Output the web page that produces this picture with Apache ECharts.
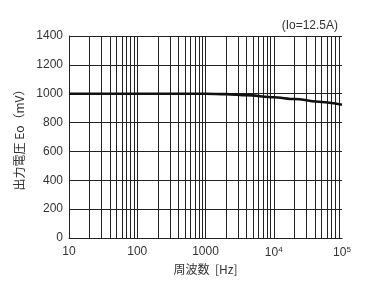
<!DOCTYPE html>
<html><head><meta charset="utf-8">
<script src="https://cdn.jsdelivr.net/npm/echarts@6/dist/echarts.min.js"></script>
<style>html,body{margin:0;padding:0;background:#fff}#c{width:374px;height:292px}</style>
</head><body><div id="c"></div>
<script>
const freq = [10, 100, 1000, 2000, 4000, 10000, 20000, 50000, 100000];
const voltage = [1000, 1000, 1000, 997, 990, 975, 963, 943, 924];
const minorGrid = [20,30,40,50,60,70,80,90,100,200,300,400,500,600,700,800,900,1000,2000,3000,4000,5000,6000,7000,8000,9000,10000,20000,30000,40000,50000,60000,70000,80000,90000];
const xTickLabels = {10:'10',100:'100',1000:'1000',10000:'10{s|4}',100000:'10{s|5}'};

const chart = echarts.init(document.getElementById('c'));
chart.setOption({
  animation:false,
  title:{text:'(Io=12.5A)', right:31, top:15, textStyle:{fontSize:12, fontWeight:'normal', color:'#333', fontFamily:'Liberation Sans'}},
  grid:{left:69, right:32, top:36, bottom:54},
  xAxis:{type:'log', min:10, max:100000, logBase:10,
    name:'周波数  [Hz]', nameLocation:'middle', nameGap:25,
    nameTextStyle:{fontSize:12, color:'#333', fontFamily:'Noto Sans CJK JP'},
    axisLine:{show:true, lineStyle:{color:'#222', width:1}},
    axisTick:{show:false},
    splitLine:{show:false},
    axisLabel:{fontSize:12, color:'#333', margin:8, fontFamily:'Liberation Sans',
      formatter:v=>xTickLabels[Math.round(v)]||'',
      rich:{s:{fontSize:8, verticalAlign:'top', padding:[0,0,6,0], color:'#333'}}}
  },
  yAxis:{type:'value', min:0, max:1400, interval:200,
    name:'出力電圧 Eo（mV）', nameLocation:'middle', nameRotate:90, nameGap:42,
    nameTextStyle:{fontSize:12, color:'#333', fontFamily:'Noto Sans CJK JP'},
    axisLine:{show:true, lineStyle:{color:'#222', width:1}},
    axisTick:{show:false},
    splitLine:{show:true, lineStyle:{color:'#222', width:1}},
    axisLabel:{fontSize:12, color:'#333', margin:6, fontFamily:'Liberation Sans', formatter:v=>String(v)}
  },
  series:[
    {type:'line', data:freq.map((f,i)=>[f,voltage[i]]), smooth:0.3, smoothMonotone:'x', showSymbol:false,
      lineStyle:{color:'#111', width:2.6}, z:5,
      markLine:{silent:true, symbol:['none','none'], label:{show:false},
        lineStyle:{color:'#222', width:1, type:'solid'},
        data:minorGrid.map(v=>({xAxis:v}))}}
  ]
});
</script></body></html>
